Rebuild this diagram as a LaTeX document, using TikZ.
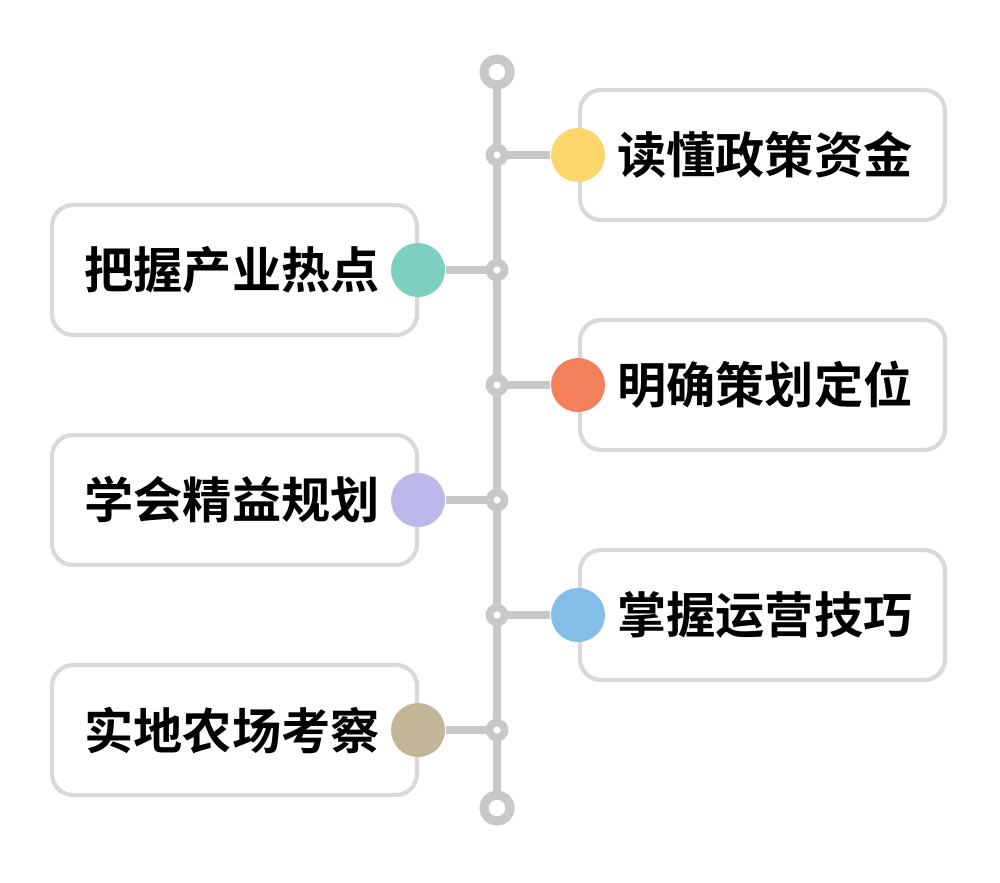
\documentclass[tikz,border=0pt]{standalone}
\usepackage{fontspec}
\newfontfamily\cjk{Noto Sans CJK SC Bold}
\usetikzlibrary{positioning}
\definecolor{axisgray}{HTML}{C8C8C8}
\definecolor{boxgray}{HTML}{D9D9D9}
\definecolor{cyellow}{HTML}{FCD56B}
\definecolor{cteal}{HTML}{7DCFC0}
\definecolor{corange}{HTML}{F47F5B}
\definecolor{clav}{HTML}{BDB8EA}
\definecolor{cblue}{HTML}{84BDE8}
\definecolor{ckhaki}{HTML}{C2B696}
\tikzset{
  itembox/.style={draw=boxgray, line width=1.2pt, rounded corners=6pt, fill=white,
    minimum width=3.65cm, minimum height=1.3cm, font=\cjk\fontsize{14pt}{16pt}\selectfont},
  joint/.style={circle, draw=axisgray, line width=2.2pt, fill=white, inner sep=0pt, minimum size=0.15cm},
  endring/.style={circle, draw=axisgray, line width=2.6pt, fill=white, inner sep=0pt, minimum size=0.26cm},
  dot/.style={circle, fill=#1, inner sep=0pt, minimum size=0.54cm}
}
\begin{document}
\begin{tikzpicture}
  \useasboundingbox (0,0) rectangle (10,8.82);
  % --- axis ---
  \coordinate (top) at (4.97,8.10);
  \coordinate (bot) at (4.97,0.74);
  \draw[axisgray, line width=2.4pt] (top) -- (bot);
  \node[endring] (ringtop) at (top) {};
  \node[endring] (ringbot) at (bot) {};

  % --- right items ---
  \foreach \y/\c/\t/\n in {7.27/cyellow/读懂政策资金/a, 4.97/corange/明确策划定位/c, 2.67/cblue/掌握运营技巧/e}{
    \node[itembox, text width=3.0cm, align=right] (box\n) at (7.625,\y) {\t};
    \node[dot=\c] (dot\n) at (5.78,\y) {};
    \node[joint] (j\n) at (4.97,\y) {};
    \draw[axisgray, line width=2.4pt] (j\n) -- (dot\n);
  }
  % --- left items ---
  \foreach \y/\c/\t/\n in {6.12/cteal/把握产业热点/b, 3.82/clav/学会精益规划/d, 1.52/ckhaki/实地农场考察/f}{
    \node[itembox, text width=3.0cm, align=left] (box\n) at (2.345,\y) {\t};
    \node[dot=\c] (dot\n) at (4.18,\y) {};
    \node[joint] (j\n) at (4.97,\y) {};
    \draw[axisgray, line width=2.4pt] (j\n) -- (dot\n);
  }
\end{tikzpicture}
\end{document}
